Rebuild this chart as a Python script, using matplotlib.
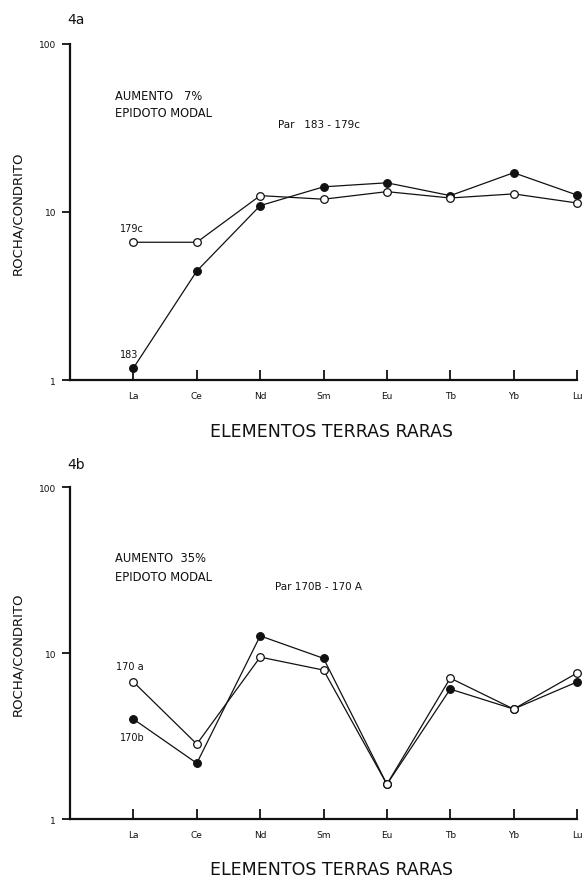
"""Chondrite-normalised REE patterns for two rock pairs (figs 4a and 4b)."""
import matplotlib
matplotlib.use("Agg")
import matplotlib.pyplot as plt
from matplotlib.ticker import FixedLocator, NullLocator

# Rare earth elements along the x axis.
ELEMENTS = ["La", "Ce", "Nd", "Sm", "Eu", "Tb", "Yb", "Lu"]

# Pair 183 - 179c (rock / chondrite).
S183 = [1.18, 4.45, 10.9, 14.1, 14.9, 12.5, 17.1, 12.6]
S179C = [6.6, 6.6, 12.5, 11.9, 13.2, 12.1, 12.8, 11.3]

# Pair 170b - 170a (rock / chondrite).
S170B = [4.0, 2.17, 12.7, 9.3, 1.62, 6.07, 4.6, 6.7]
S170A = [6.7, 2.83, 9.46, 7.9, 1.62, 7.07, 4.6, 7.58]

INK = "#111111"
FONT = "DejaVu Sans"


def style_axes(ax):
    ax.set_yscale("log")
    ax.set_ylim(1, 100)
    ax.set_xlim(-1, len(ELEMENTS) - 1)
    ax.spines["top"].set_visible(False)
    ax.spines["right"].set_visible(False)
    for side in ("left", "bottom"):
        ax.spines[side].set_linewidth(1.6)
        ax.spines[side].set_color(INK)
    ax.set_xticks(range(len(ELEMENTS)))
    ax.set_xticklabels(ELEMENTS, fontsize=6.5, family=FONT, color=INK)
    ax.tick_params(axis="x", direction="in", length=7, width=1.3,
                   pad=8, colors=INK)
    ax.yaxis.set_major_locator(FixedLocator([1, 10, 100]))
    ax.yaxis.set_minor_locator(NullLocator())
    ax.set_yticklabels(["1", "10", "100"], fontsize=6.5, family=FONT, color=INK)
    ax.tick_params(axis="y", direction="out", length=6, width=1.3,
                   pad=4, colors=INK)
    ax.text(-0.103, 0.5, "ROCHA/CONDRITO", transform=ax.transAxes,
            rotation=90, ha="center", va="center", fontsize=9.5,
            family=FONT, color=INK)
    ax.text(0.515, -0.152, "ELEMENTOS TERRAS RARAS", transform=ax.transAxes,
            ha="center", va="center", fontsize=12.5, family=FONT, color=INK)


def plot_pair(ax, filled, hollow):
    # markers at Lu sit on the right edge, so don't clip them
    x = range(len(ELEMENTS))
    ax.plot(x, filled, color=INK, lw=0.9, marker="o", ms=5.5,
            mfc=INK, mec=INK, mew=0.9, zorder=3, clip_on=False)
    ax.plot(x, hollow, color=INK, lw=0.9, marker="o", ms=5.5,
            mfc="white", mec=INK, mew=0.9, zorder=4, clip_on=False)


def main():
    fig = plt.figure(figsize=(5.84, 8.78), dpi=100)
    fig.patch.set_facecolor("white")

    ax_a = fig.add_axes([0.120, 0.566, 0.868, 0.383])
    ax_b = fig.add_axes([0.120, 0.066, 0.868, 0.378])

    # --- 4a ---
    style_axes(ax_a)
    plot_pair(ax_a, S183, S179C)
    ax_a.text(0.089, 0.846, "AUMENTO   7%", transform=ax_a.transAxes,
              fontsize=8.3, family=FONT, va="center", color=INK)
    ax_a.text(0.089, 0.797, "EPIDOTO MODAL", transform=ax_a.transAxes,
              fontsize=8.3, family=FONT, va="center", color=INK)
    ax_a.text(0.41, 0.762, "Par   183 - 179c", transform=ax_a.transAxes,
              fontsize=7.5, family=FONT, va="center", color=INK)
    ax_a.text(-0.22, 8.0, "179c", fontsize=7, family=FONT,
              va="center", color=INK)
    ax_a.text(-0.22, 1.43, "183", fontsize=7, family=FONT,
              va="center", color=INK)
    fig.text(0.116, 0.977, "4a", fontsize=10, family=FONT,
             va="center", color=INK)

    # --- 4b ---
    style_axes(ax_b)
    plot_pair(ax_b, S170B, S170A)
    ax_b.text(0.089, 0.789, "AUMENTO  35%", transform=ax_b.transAxes,
              fontsize=8.3, family=FONT, va="center", color=INK)
    ax_b.text(0.089, 0.732, "EPIDOTO MODAL", transform=ax_b.transAxes,
              fontsize=8.3, family=FONT, va="center", color=INK)
    ax_b.text(0.404, 0.702, "Par 170B - 170 A", transform=ax_b.transAxes,
              fontsize=7.5, family=FONT, va="center", color=INK)
    ax_b.text(-0.27, 8.35, "170 a", fontsize=7, family=FONT,
              va="center", color=INK)
    ax_b.text(-0.22, 3.12, "170b", fontsize=7, family=FONT,
              va="center", color=INK)
    fig.text(0.116, 0.470, "4b", fontsize=10, family=FONT,
             va="center", color=INK)

    fig.savefig("out.png", dpi=100, facecolor="white")
    plt.close(fig)


if __name__ == "__main__":
    main()
